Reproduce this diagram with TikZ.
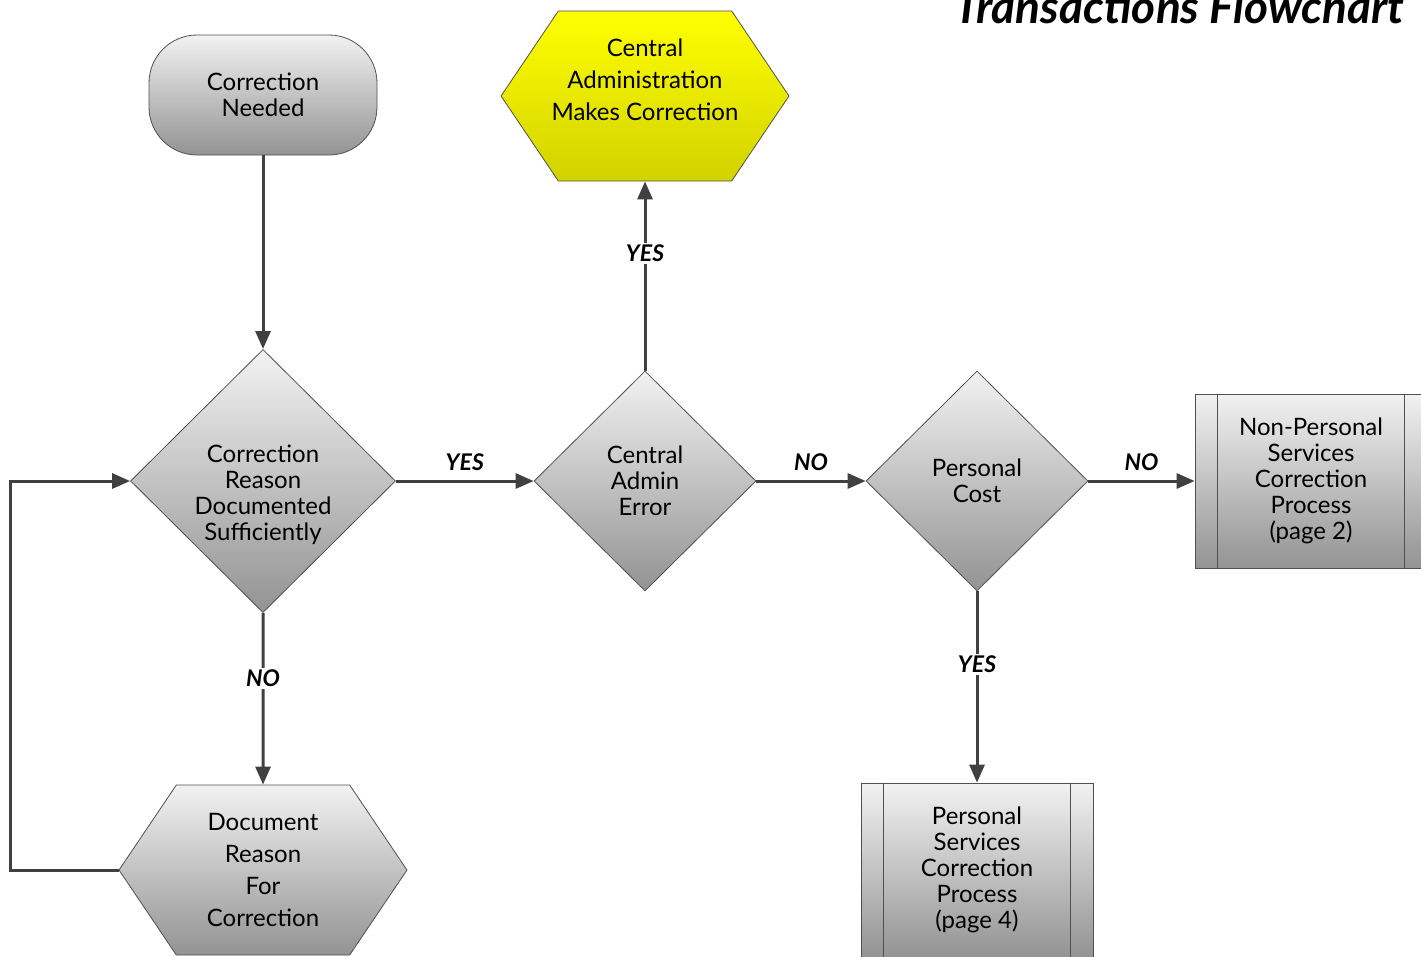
\documentclass[tikz,border=0pt]{standalone}
\usepackage{fontspec}
\setmainfont{Lato}
\usetikzlibrary{shapes,arrows.meta,positioning}

\definecolor{linegray}{HTML}{404040}
\definecolor{edgegray}{HTML}{505050}
\definecolor{shadetop}{HTML}{F2F2F2}
\definecolor{shadebot}{HTML}{939393}
\definecolor{yellowtop}{HTML}{FFFF00}
\definecolor{yellowbot}{HTML}{D2D200}

\begin{document}
\begin{tikzpicture}[x=1pt,y=-1pt,
  every node/.style={font=\fontsize{24}{26}\selectfont, align=center},
  box/.style={draw=edgegray, line width=0.8pt, top color=shadetop, bottom color=shadebot},
  decision/.style={box, diamond, inner sep=0pt},
  hexa/.style={box, signal, signal to=east and west, signal pointer angle=112, minimum width=288pt, minimum height=170pt, inner sep=0pt, inner xsep=-12pt},
  subproc/.style={box, rectangle, minimum width=232pt, minimum height=174pt, inner sep=0pt},
  flow/.style={draw=linegray, line width=3pt, -{Triangle[length=18pt,width=15pt]}},
  answer/.style={font=\fontsize{23}{26}\selectfont\bfseries\itshape, inner sep=2pt}]
\useasboundingbox (0,0) rectangle (1421,956);

% title, cut by the page edge
\node (title) [anchor=base east, font=\fontsize{46}{50}\selectfont\bfseries\itshape] at (1408,23) {Transactions Flowchart};

\node (start) [box, rectangle, rounded corners=48pt, minimum width=228pt, minimum height=120pt] at (263,95) {Correction\\Needed};
\node (reason) [decision, minimum width=265pt, minimum height=261pt, below of=start, node distance=386pt] {\strut\\Correction\\Reason\\Documented\\Sufficiently};
\node (cadmin) [decision, minimum width=222pt, minimum height=220pt, right of=reason, node distance=382pt] {Central\\Admin\\Error};
\node (pcost) [decision, minimum width=222pt, minimum height=220pt, right of=cadmin, node distance=332pt] {Personal\\Cost};
\node (fix) [hexa, top color=yellowtop, bottom color=yellowbot, font=\fontsize{24}{32}\selectfont, above of=cadmin, node distance=385pt] {Central\\Administration\\Makes Correction\\~};
\node (doc) [hexa, font=\fontsize{24}{32}\selectfont, below of=reason, node distance=389pt] {Document\\Reason\\For\\Correction};
\node (nonps) [subproc, right of=pcost, node distance=334pt] {Non-Personal\\Services\\Correction\\Process\\(page 2)};
\node (ps) [subproc, below of=pcost, node distance=389pt] {Personal\\Services\\Correction\\Process\\(page 4)};

\draw [edgegray, line width=0.8pt] ([xshift=23pt]nonps.north west) -- ([xshift=23pt]nonps.south west);
\draw [edgegray, line width=0.8pt] ([xshift=-23pt]nonps.north east) -- ([xshift=-23pt]nonps.south east);
\draw [edgegray, line width=0.8pt] ([xshift=23pt]ps.north west) -- ([xshift=23pt]ps.south west);
\draw [edgegray, line width=0.8pt] ([xshift=-23pt]ps.north east) -- ([xshift=-23pt]ps.south east);

\draw [flow] (start) -- (reason);
\draw [flow] (reason) -- node[answer, above=7pt] {YES} (cadmin);
\draw [flow] (cadmin) -- node[answer, above=7pt] {NO} (pcost);
\draw [flow] (pcost) -- node[answer, above=7pt] {NO} (nonps);
\draw [flow] (cadmin) -- node[answer, fill=white, pos=0.62] {YES} (fix);
\draw [flow] (pcost) -- node[answer, fill=white, pos=0.38] {YES} (ps);
\draw [flow] (reason) -- node[answer, fill=white, pos=0.38] {NO} (doc);
\draw [flow] (doc.west) -- ++(-108,0) |- (reason.west);
\end{tikzpicture}
\end{document}
